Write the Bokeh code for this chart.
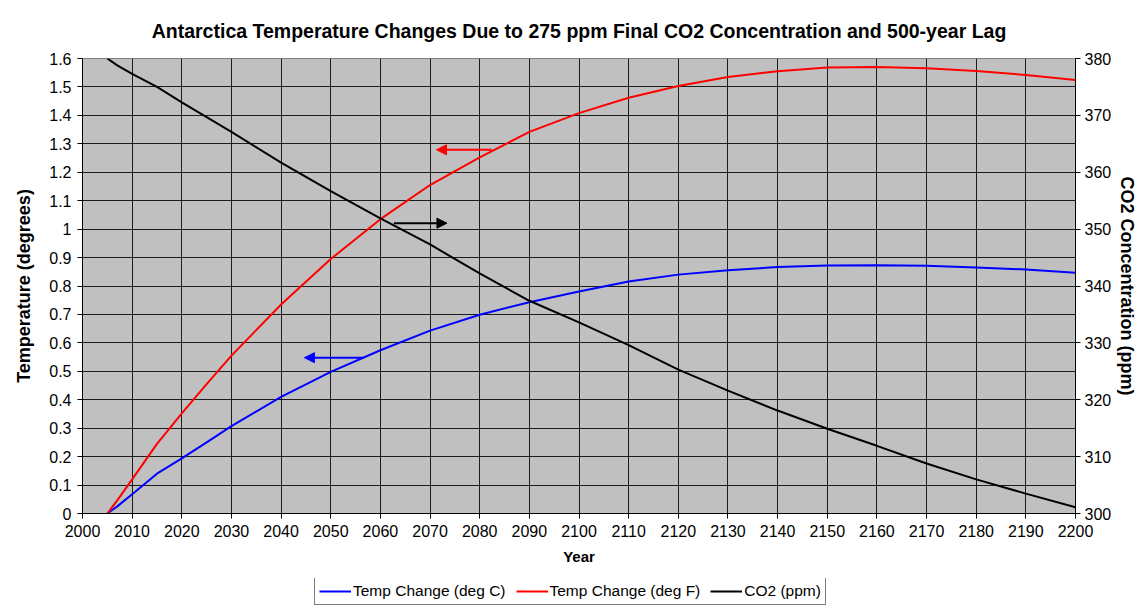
from bokeh.plotting import figure
from bokeh.layouts import column
from bokeh.models import Range1d, LinearAxis, FixedTicker, Legend, LegendItem, Arrow, NormalHead
from bokeh.embed import file_html
from bokeh.resources import INLINE

# ---- data ----
years = [2005, 2007, 2010, 2015, 2020, 2025, 2030, 2040, 2050, 2060, 2070, 2080,
         2090, 2100, 2110, 2120, 2130, 2140, 2150, 2160, 2170, 2180, 2190, 2200]
temp_c = [0.0, 0.025, 0.068, 0.14, 0.194, 0.25, 0.307, 0.41, 0.498, 0.574, 0.643, 0.699,
          0.743, 0.781, 0.816, 0.840, 0.855, 0.867, 0.872, 0.873, 0.871, 0.865, 0.858, 0.847]
temp_f = [0.0, 0.046, 0.12, 0.245, 0.352, 0.455, 0.555, 0.735, 0.895, 1.035, 1.155, 1.252,
          1.342, 1.408, 1.462, 1.503, 1.535, 1.555, 1.568, 1.570, 1.566, 1.556, 1.542, 1.524]
co2_ppm = [380.0, 378.8, 377.3, 375.0, 372.3, 369.7, 367.1, 361.7, 356.7, 351.9, 347.3, 342.2,
           337.4, 333.6, 329.6, 325.3, 321.6, 318.1, 314.9, 311.9, 308.8, 306.0, 303.5, 301.1]

x_ticks = [2000, 2010, 2020, 2030, 2040, 2050, 2060, 2070, 2080, 2090, 2100,
           2110, 2120, 2130, 2140, 2150, 2160, 2170, 2180, 2190, 2200]
temp_ticks = [0, 0.1, 0.2, 0.3, 0.4, 0.5, 0.6, 0.7, 0.8, 0.9, 1.0,
              1.1, 1.2, 1.3, 1.4, 1.5, 1.6]
temp_tick_labels = ["0", "0.1", "0.2", "0.3", "0.4", "0.5", "0.6", "0.7", "0.8", "0.9", "1",
                    "1.1", "1.2", "1.3", "1.4", "1.5", "1.6"]
co2_ticks = [300, 310, 320, 330, 340, 350, 360, 370, 380]

series_names = ["Temp Change (deg C)", "Temp Change (deg F)", "CO2 (ppm)"]
series_colors = ["#0000FF", "#FF0000", "#000000"]
series_values = [temp_c, temp_f, co2_ppm]

FONT = "Liberation Sans"

p = figure(width=1140, height=578, output_backend="svg", toolbar_location=None,
           x_range=Range1d(2000, 2200), y_range=Range1d(0, 1.6),
           min_border_left=82, min_border_right=60, min_border_top=58, min_border_bottom=65,
           title="Antarctica Temperature Changes Due to 275 ppm Final CO2 Concentration and 500-year Lag")
p.extra_y_ranges = {"co2": Range1d(300, 380)}

p.title.text_font = FONT
p.title.text_font_size = "19.5px"
p.title.text_font_style = "bold"
p.title.align = "center"
p.title.text_color = "black"
p.title.standoff = 33

p.background_fill_color = "#C0C0C0"
p.border_fill_color = "white"
p.outline_line_color = "#808080"
p.outline_line_width = 1

p.xaxis.ticker = FixedTicker(ticks=x_ticks)
p.yaxis.ticker = FixedTicker(ticks=temp_ticks)
p.yaxis.major_label_overrides = {t: l for t, l in zip(temp_ticks, temp_tick_labels)}

p.xgrid.ticker = FixedTicker(ticks=x_ticks)
p.ygrid.ticker = FixedTicker(ticks=temp_ticks)
for g in (p.xgrid, p.ygrid):
    g.grid_line_color = "black"
    g.grid_line_alpha = 0.85
    g.grid_line_width = 1

right_axis = LinearAxis(y_range_name="co2", ticker=FixedTicker(ticks=co2_ticks),
                        axis_label="CO2 Concentration (ppm)")
p.add_layout(right_axis, "right")

p.xaxis.axis_label = "Year"
p.yaxis[0].axis_label = "Temperature (degrees)"

for ax in p.xaxis + p.yaxis:
    ax.axis_line_color = "black"
    ax.major_tick_line_color = "black"
    ax.major_tick_out = 5
    ax.major_tick_in = 0
    ax.minor_tick_line_color = None
    ax.major_label_text_font = FONT
    ax.major_label_text_font_size = "16px"
    ax.major_label_text_color = "black"
    ax.axis_label_text_font = FONT
    ax.axis_label_text_font_style = "bold"
    ax.axis_label_text_color = "black"
    ax.major_label_standoff = 6

p.xaxis.axis_label_text_font_size = "15px"
p.xaxis.axis_label_standoff = 8
p.yaxis[0].axis_label_text_font_size = "18px"
p.yaxis[0].axis_label_standoff = 12
right_axis.axis_label_text_font_size = "18px"
right_axis.axis_label_standoff = 3
right_axis.major_label_standoff = 4

p.line(years, temp_c, line_color=series_colors[0], line_width=2)
p.line(years, temp_f, line_color=series_colors[1], line_width=2)
p.line(years, co2_ppm, line_color=series_colors[2], line_width=2, y_range_name="co2")

# annotation arrows pointing to each series' axis
for (xs, xe, yv, col) in [(2082.4, 2071.3, 1.279, "#FF0000"),
                          (2062.7, 2073.4, 1.021, "#000000"),
                          (2056.7, 2044.7, 0.548, "#0000FF")]:
    p.add_layout(Arrow(x_start=xs, y_start=yv, x_end=xe, y_end=yv, line_color=col, line_width=2,
                       end=NormalHead(size=10, fill_color=col, line_color=col)))

# legend strip below the chart (series drawn off-screen here, only the legend shows)
p2 = figure(width=1140, height=31, output_backend="svg", toolbar_location=None,
            x_range=Range1d(0, 1), y_range=Range1d(0, 1),
            x_axis_type=None, y_axis_type=None,
            min_border_left=82, min_border_right=60, min_border_top=0, min_border_bottom=0)
p2.outline_line_color = None
p2.background_fill_color = "white"
p2.border_fill_color = "white"
p2.xgrid.visible = False
p2.ygrid.visible = False
items = []
for name, col, vals in zip(series_names, series_colors, series_values):
    r = p2.line(years, vals, line_color=col, line_width=2)
    items.append(LegendItem(label=name, renderers=[r]))

legend = Legend(items=items, orientation="horizontal", location=(232, 4))
legend.label_text_font = FONT
legend.label_text_font_size = "15.5px"
legend.label_text_color = "black"
legend.glyph_width = 32
legend.label_standoff = 2
legend.spacing = 10
legend.padding = 4
legend.margin = 0
legend.label_height = 18
legend.glyph_height = 18
legend.border_line_color = "black"
legend.border_line_width = 1
legend.background_fill_color = "white"
p2.add_layout(legend, "center")

layout = column(p, p2, spacing=0)
open("out.html", "w").write(file_html(layout, INLINE))
